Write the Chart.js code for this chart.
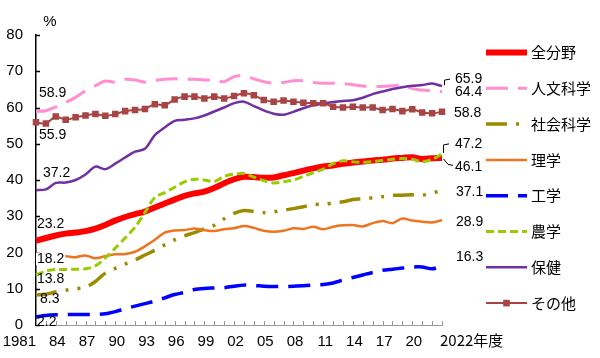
<!DOCTYPE html>
<html><head><meta charset="utf-8">
<script src="https://cdn.jsdelivr.net/npm/chart.js@4"></script>
<style>html,body{margin:0;padding:0;background:#fff;overflow:hidden}#wrap{width:600px;height:358px;position:relative}</style>
</head><body><div id="wrap"><canvas id="c" width="600" height="358"></canvas></div>
<script>
// ---- data ----
const years = [1981,1982,1983,1984,1985,1986,1987,1988,1989,1990,1991,1992,1993,1994,1995,1996,1997,1998,1999,2000,2001,2002,2003,2004,2005,2006,2007,2008,2009,2010,2011,2012,2013,2014,2015,2016,2017,2018,2019,2020,2021,2022];
const seriesNames = ['全分野','人文科学','社会科学','理学','工学','農学','保健','その他'];
const allFields  = [23.2,24.0,24.7,25.2,25.5,25.9,26.6,27.6,28.8,29.8,30.6,31.3,32.4,33.5,34.6,35.6,36.3,36.8,37.8,39.1,40.2,40.9,40.8,40.6,40.7,41.3,41.9,42.6,43.2,43.7,44.0,44.5,44.8,45.1,45.4,45.6,45.9,46.1,46.3,45.8,46.0,46.1];
const humanities = [58.9,59.1,60.2,61.4,62.8,64.6,66.0,67.3,67.0,67.8,67.6,67.0,67.5,67.8,67.9,67.8,67.8,67.6,67.6,67.1,68.5,68.8,67.9,67.1,66.7,66.9,67.4,67.4,66.9,66.7,66.7,66.6,66.3,65.9,65.8,65.8,66.0,66.2,65.2,64.8,64.6,64.4];
const socialSci  = [8.3,8.5,9.1,9.6,10.0,10.4,12.0,14.3,15.6,16.8,17.9,19.3,20.6,22.1,23.5,24.6,25.5,26.5,27.5,29.3,30.8,31.6,31.3,31.0,31.2,31.7,32.1,32.6,33.3,33.2,33.7,34.0,34.6,34.8,35.1,35.4,35.8,35.8,35.9,35.8,36.4,37.1];
const science    = [18.2,19.0,19.0,19.0,18.7,19.2,18.4,19.0,19.5,19.6,20.2,21.7,23.5,25.5,26.1,26.2,26.6,26.2,25.9,26.4,26.7,27.3,26.8,26.0,25.7,26.0,26.7,26.5,27.1,26.4,27.1,27.5,27.6,27.2,28.1,28.7,28.1,29.4,28.8,28.5,28.3,28.9];
const engineering= [2.2,2.6,2.8,2.9,2.9,2.9,2.9,3.1,3.7,4.5,5.2,5.9,6.6,7.5,8.4,9.0,9.8,10.1,10.2,10.3,10.7,11.0,10.9,10.7,10.6,10.6,10.7,10.8,11.0,11.2,11.6,12.4,13.1,13.8,14.5,15.1,15.4,15.7,16.0,16.0,15.5,16.3];
const agriculture= [13.8,14.9,15.3,15.3,15.4,15.5,16.3,18.5,21.2,24.0,27.0,31.0,35.2,36.5,38.0,39.5,40.2,40.0,39.6,41.0,41.6,41.8,40.8,39.8,39.2,39.5,40.0,41.0,42.0,43.0,44.5,45.3,45.0,44.9,45.1,45.4,45.7,45.9,45.7,45.0,45.7,47.2];
const health     = [37.2,37.4,39.2,39.3,40.0,41.5,43.7,43.0,44.5,46.2,47.8,48.6,52.4,54.5,56.3,56.6,57.0,57.8,58.9,60.0,61.2,61.6,60.4,59.2,58.3,58.0,58.8,59.8,60.6,61.1,61.5,61.8,62.0,62.7,63.7,64.4,65.1,65.6,66.0,66.2,66.6,65.9];
const others     = [55.9,55.6,57.5,56.6,57.3,57.8,58.2,57.7,58.2,59.0,59.3,59.6,60.9,60.6,62.2,63.0,63.0,62.5,63.0,62.5,63.2,63.9,63.4,62.1,61.6,61.9,61.6,61.3,61.2,61.2,60.2,60.0,60.2,60.0,60.0,59.3,59.6,59.0,59.5,58.6,58.4,58.8];
const tickYears = [1981,1984,1987,1990,1993,1996,1999,2002,2005,2008,2011,2014,2017,2020];
const tickTexts = ['1981','84','87','90','93','96','99','02','05','08','11','14','17','20'];
const lastTickText = '2022年度';
const unitText = '%';

// ---- styles ----
const seriesValues = [allFields, humanities, socialSci, science, engineering, agriculture, health, others];
const styles = [
  {color:'#FF0000', width:6,   dash:[]},
  {color:'#FF8FD0', width:3,   dash:[22,10]},
  {color:'#9C8A00', width:3.5, dash:[21,9,3,9,3,9]},
  {color:'#EE7420', width:2.5, dash:[]},
  {color:'#0000FF', width:3.5, dash:[22,10]},
  {color:'#99CC00', width:3,   dash:[8,4]},
  {color:'#7030A0', width:2.5, dash:[]},
  {color:'#A84444', width:2,   dash:[], point:true}
];
// [dataset, dx, dy, whiteBg]
const leftLabels  = [[1,3,-18.5],[7,3,13],[6,7,-17],[0,1,-17],[3,1,0,true],[5,1,4],[4,1,5],[2,4,4]];
const rightLabels = [[6,13,-7],[1,13,0.5],[7,12,1],[5,13,-10],[0,13,9],[2,14,1.5],[3,14,2],[4,14,-9]];

const FONT = '"Liberation Sans", Arial, "Noto Sans CJK JP", sans-serif';
const JFONT = '"Noto Sans CJK JP", "Liberation Sans", sans-serif';
Chart.defaults.font.family = FONT;
Chart.defaults.color = '#000';

const datasets = seriesNames.map((n, i) => ({
  label: n,
  data: seriesValues[i],
  borderColor: styles[i].color,
  backgroundColor: styles[i].color,
  borderWidth: styles[i].width,
  borderDash: styles[i].dash,
  pointRadius: styles[i].point ? 4.6 : 0,
  pointStyle: 'rect',
  pointBorderWidth: 0,
  pointHoverRadius: 0,
  tension: 0.3,
  fill: false,
  order: seriesNames.length - i
}));

const decor = {
  id: 'decor',
  afterDraw(chart) {
    const ctx = chart.ctx, xs = chart.scales.x, ys = chart.scales.y;
    const area = chart.chartArea;
    ctx.save();
    // inward y ticks
    ctx.strokeStyle = '#000'; ctx.lineWidth = 1.5;
    for (let v = 0; v <= 80; v += 10) {
      const py = Math.round(ys.getPixelForValue(v)) + 0.5;
      ctx.beginPath(); ctx.moveTo(area.left, py); ctx.lineTo(area.left + 4, py); ctx.stroke();
    }
    // inward x ticks
    ctx.strokeStyle = '#999'; ctx.lineWidth = 1;
    years.forEach((y, i) => {
      const px = Math.round(xs.getPixelForValue(i)) + 0.5;
      ctx.beginPath(); ctx.moveTo(px, area.bottom); ctx.lineTo(px, area.bottom - 4); ctx.stroke();
    });
    // unit and last tick text
    ctx.fillStyle = '#000';
    ctx.font = '15px ' + FONT;
    ctx.textBaseline = 'middle';
    ctx.textAlign = 'center';
    ctx.fillText(unitText, 50, 22);
    ctx.textAlign = 'left';
    ctx.font = '15px ' + JFONT;
    ctx.fillText(lastTickText, xs.getPixelForValue(years.length - 1) - 2, 340);
    // value labels
    ctx.font = '14px ' + FONT;
    const x0 = xs.getPixelForValue(0), xN = xs.getPixelForValue(years.length - 1);
    leftLabels.forEach(([d, dx, dy, bg]) => {
      const v = seriesValues[d][0];
      const t = v.toFixed(1);
      const py = ys.getPixelForValue(v) + dy;
      if (bg) { const w = ctx.measureText(t).width; ctx.fillStyle = '#fff'; ctx.fillRect(x0 + dx - 1, py - 6, w + 2, 12); }
      ctx.fillStyle = '#000';
      ctx.fillText(t, x0 + dx, py);
    });
    rightLabels.forEach(([d, dx, dy]) => {
      const v = seriesValues[d][years.length - 1];
      ctx.fillText(v.toFixed(1), xN + dx, ys.getPixelForValue(v) + dy);
    });
    // leader lines
    ctx.strokeStyle = '#000'; ctx.lineWidth = 1;
    const lead = (d, pts) => {
      const py = ys.getPixelForValue(seriesValues[d][years.length - 1]);
      ctx.beginPath();
      pts.forEach(([a, b], k) => k ? ctx.lineTo(xN + a, py + b) : ctx.moveTo(xN + a, py + b));
      ctx.stroke();
    };
    lead(6, [[2.5,-1],[2.5,-6],[8,-7]]);
    lead(5, [[1.5,-1],[1.5,-9],[7,-10]]);
    lead(0, [[1.5,1],[6,6.5],[11,7.5]]);
    // legend
    const lx0 = 486, lx1 = 527, ly0 = 52.5, lstep = 35.8;
    seriesNames.forEach((n, i) => {
      const y = ly0 + i * lstep;
      const s = styles[i];
      ctx.save();
      ctx.strokeStyle = s.color; ctx.lineWidth = s.width; ctx.setLineDash(s.dash);
      ctx.beginPath(); ctx.moveTo(lx0, y); ctx.lineTo(lx1, y); ctx.stroke();
      ctx.restore();
      if (s.point) { ctx.fillStyle = s.color; ctx.fillRect((lx0 + lx1) / 2 - 3.3, y - 3.3, 6.6, 6.6); }
      ctx.fillStyle = '#000';
      ctx.font = '15px ' + JFONT;
      ctx.fillText(n, 531, y);
    });
    ctx.restore();
  }
};

new Chart(document.getElementById('c'), {
  type: 'line',
  data: { labels: years, datasets },
  options: {
    responsive: false,
    animation: false,
    events: [],
    layout: { padding: { top: 35, right: 158, left: 0, bottom: 0 } },
    plugins: { legend: { display: false }, tooltip: { enabled: false } },
    scales: {
      x: {
        type: 'category',
        offset: false,
        grid: { display: true, drawOnChartArea: false, drawTicks: false },
        border: { display: true, color: '#999', width: 1 },
        ticks: {
          autoSkip: false, maxRotation: 0, minRotation: 0, align: 'end', padding: 8,
          font: { size: 15 }, color: '#000',
          callback: function (value, index) {
            const k = tickYears.indexOf(years[index]);
            return k >= 0 ? tickTexts[k] : '';
          }
        },
        afterFit(s) { s.height = 33; s.paddingLeft = 0; s.paddingRight = 0; }
      },
      y: {
        min: 0, max: 80,
        grid: { display: true, drawOnChartArea: false, drawTicks: false },
        border: { display: true, color: '#000', width: 1.5 },
        ticks: { stepSize: 10, padding: 13, font: { size: 15 }, color: '#000' },
        afterFit(s) { s.width = 36; }
      }
    }
  },
  plugins: [decor]
});
</script>
</body></html>
